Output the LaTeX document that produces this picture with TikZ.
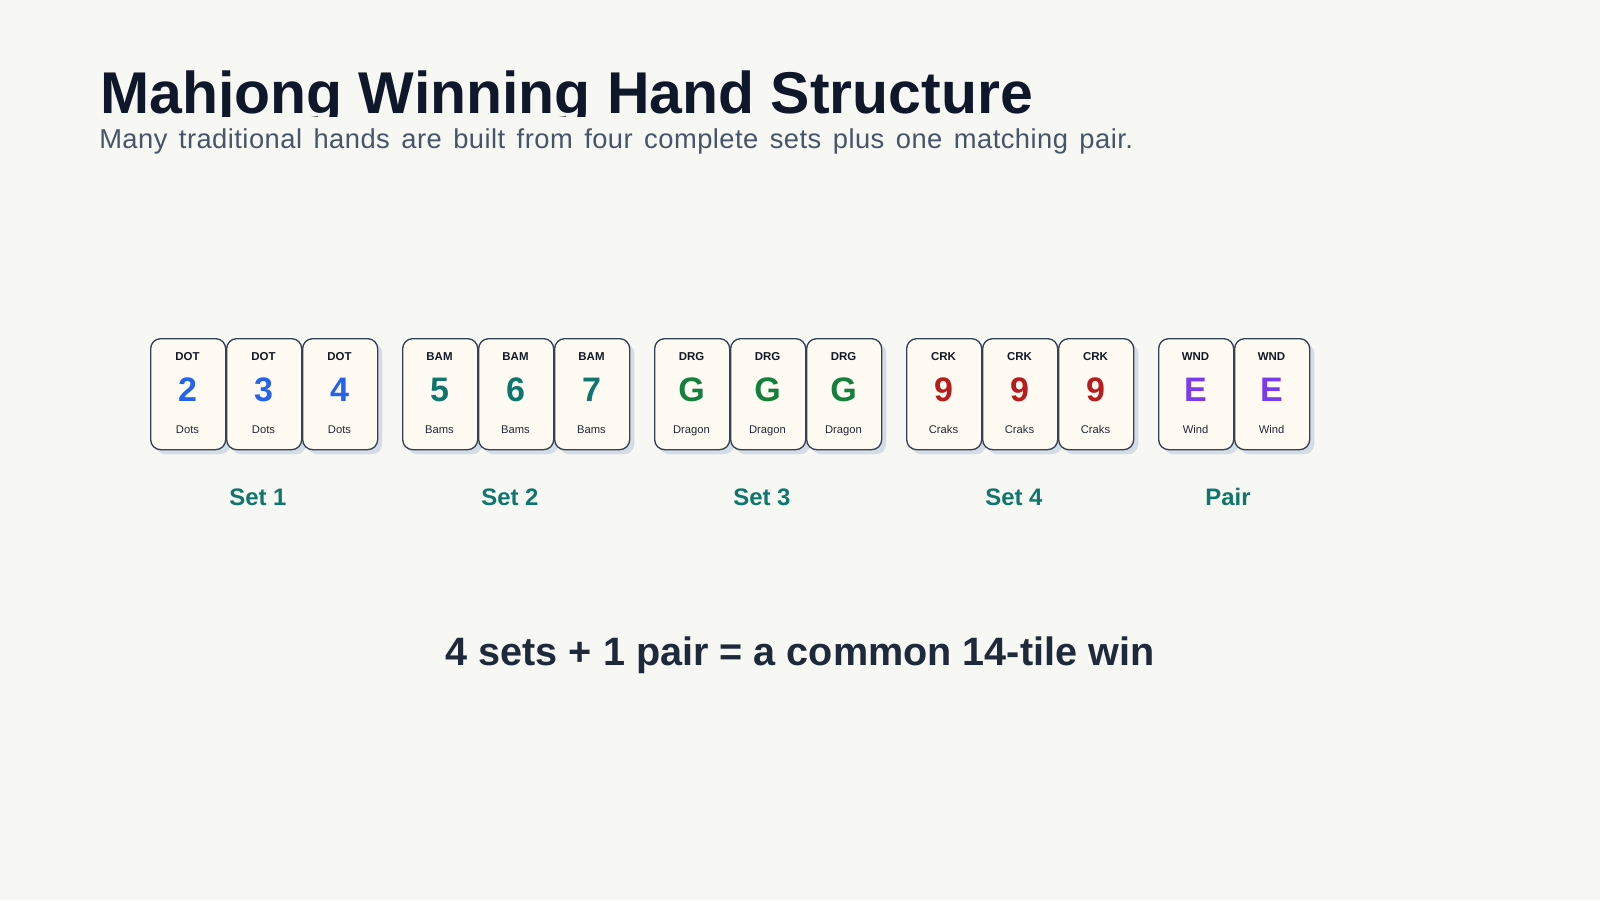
\documentclass[tikz,border=0pt]{standalone}
\usepackage{fontspec}
\setmainfont{Liberation Sans}
\newfontfamily\subfont[LetterSpace=1.7]{Liberation Sans}
\definecolor{bgc}{HTML}{F7F7F3}
\definecolor{titlec}{HTML}{0F172A}
\definecolor{subc}{HTML}{475569}
\definecolor{bottomc}{HTML}{1E293B}
\definecolor{tilefill}{HTML}{FFFBF2}
\definecolor{tileborder}{HTML}{334155}
\definecolor{shadowc}{HTML}{D6DCE6}
\definecolor{smallc}{HTML}{111827}
\definecolor{namec}{HTML}{1F2937}
\definecolor{labelc}{HTML}{0F766E}
\definecolor{dotc}{HTML}{2563EB}
\definecolor{bamc}{HTML}{0F766E}
\definecolor{drgc}{HTML}{15803D}
\definecolor{crkc}{HTML}{B91C1C}
\definecolor{wndc}{HTML}{7C3AED}
\tikzset{
  tilebox/.style={draw=tileborder, line width=1pt, fill=tilefill, rounded corners=7.5pt,
    minimum width=56.25pt, minimum height=83.25pt, inner sep=0pt, anchor=north west},
  shadowbox/.style={fill=shadowc, rounded corners=7.5pt, draw=none,
    minimum width=56.25pt, minimum height=83.25pt, inner sep=0pt, anchor=north west},
  suittxt/.style={anchor=base, inner sep=0pt, text=smallc, font=\fontsize{8.6pt}{10pt}\selectfont\bfseries},
  valtxt/.style={anchor=base, inner sep=0pt, font=\fontsize{25.5pt}{30pt}\selectfont\bfseries},
  nametxt/.style={anchor=base, inner sep=0pt, text=namec, font=\fontsize{8.4pt}{10pt}\selectfont},
  setlabel/.style={anchor=base, inner sep=0pt, text=labelc, font=\fontsize{17.9pt}{20pt}\selectfont\bfseries},
}
\begin{document}
\begin{tikzpicture}[x=0.75pt, y=-0.75pt]
  \fill[bgc] (0,0) rectangle (1600,900);
  \useasboundingbox (0,0) rectangle (1600,900);
  % title (descenders clipped as in reference)
  \begin{scope}
    \clip (0,0) rectangle (1600,116);
    \node[anchor=base west, inner sep=0pt, text=titlec,
      font=\fontsize{44.2pt}{50pt}\selectfont\bfseries] (title) at (100,113) {Mahjong Winning Hand Structure};
  \end{scope}
  \node[anchor=base west, inner sep=0pt, text=subc,
    font=\subfont\fontsize{20.5pt}{24pt}\selectfont] (subtitle) at (99,148)
    {\spaceskip=0.42em\relax Many traditional hands are built from four complete sets plus one matching pair.};
  % tiles
  \foreach \g/\ab/\vals/\nm/\col/\lab/\n in {
      0/DOT/{2,3,4}/Dots/dotc/Set 1/3,
      1/BAM/{5,6,7}/Bams/bamc/Set 2/3,
      2/DRG/{G,G,G}/Dragon/drgc/Set 3/3,
      3/CRK/{9,9,9}/Craks/crkc/Set 4/3,
      4/WND/{E,E}/Wind/wndc/Pair/2} {
    \foreach \v [count=\i from 0] in \vals {
      \pgfmathsetmacro{\lx}{150+252*\g+76*\i}
      \pgfmathsetmacro{\cx}{\lx+37.5}
      \node[shadowbox] (s-\g-\i) at (\lx+5,343) {};
      \node[tilebox] (t-\g-\i) at (\lx,338) {};
      \node[suittxt] (a-\g-\i) at (\cx,360) {\ab};
      \node[valtxt, text=\col] (v-\g-\i) at (\cx,401.5) {\v};
      \node[nametxt] (n-\g-\i) at (\cx,433.5) {\nm};
    }
    \pgfmathsetmacro{\gx}{150+252*\g+38*\n-6}
    \node[setlabel] (lab-\g) at (\gx,505) {\lab};
  }
  \node[anchor=base, inner sep=0pt, text=bottomc,
    font=\fontsize{29.7pt}{34pt}\selectfont\bfseries] (summary) at (800,665)
    {4 sets + 1 pair = a common 14-tile win};
\end{tikzpicture}
\end{document}
